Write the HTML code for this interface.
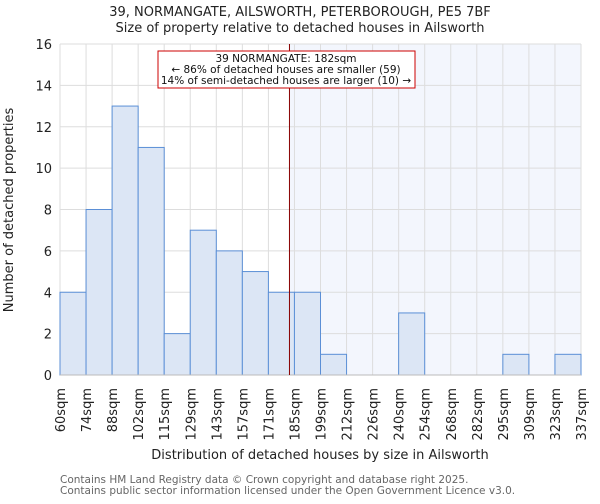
<!DOCTYPE html>
<html><head><meta charset="utf-8"><style>
body{margin:0;background:#fff;font-family:"DejaVu Sans","Liberation Sans",sans-serif}
svg text{font-family:"DejaVu Sans","Liberation Sans",sans-serif}
</style></head><body>
<svg id="chart" width="600" height="500" xmlns="http://www.w3.org/2000/svg">
<text x="300" y="16" text-anchor="middle" font-size="13" fill="#222">39, NORMANGATE, AILSWORTH, PETERBOROUGH, PE5 7BF</text>
<text x="300" y="32" text-anchor="middle" font-size="13" fill="#222">Size of property relative to detached houses in Ailsworth</text>
<g id="grid"></g><g id="bars"></g><g id="axes"></g>
<text transform="translate(13,210) rotate(-90)" text-anchor="middle" font-size="13" fill="#222">Number of detached properties</text>
<text x="320" y="459" text-anchor="middle" font-size="13" fill="#222">Distribution of detached houses by size in Ailsworth</text>
<text x="60" y="483" font-size="10.5" fill="#666">Contains HM Land Registry data © Crown copyright and database right 2025.</text>
<text x="60" y="494" font-size="10.5" fill="#666">Contains public sector information licensed under the Open Government Licence v3.0.</text>
</svg>
<script>
const binLabels=["60sqm","74sqm","88sqm","102sqm","115sqm","129sqm","143sqm","157sqm","171sqm","185sqm","199sqm","212sqm","226sqm","240sqm","254sqm","268sqm","282sqm","295sqm","309sqm","323sqm","337sqm"];
const counts=[4,8,13,11,2,7,6,5,4,4,1,0,0,3,0,0,0,1,0,1];
const yTicks=[0,2,4,6,8,10,12,14,16];
const propertySize=182;
const binStart=60, binWidthSqm=13.85;
const annotation=["39 NORMANGATE: 182sqm","← 86% of detached houses are smaller (59)","14% of semi-detached houses are larger (10) →"];
const NS="http://www.w3.org/2000/svg";
const L=60,R=581,T=44,B=375,nb=counts.length;
const x=i=>L+(R-L)*i/nb;
const y=v=>B-(B-T)*v/16;
const xs=s=>L+(R-L)*(s-binStart)/(binWidthSqm*nb);
function mk(tag,attrs,parent){const e=document.createElementNS(NS,tag);for(const k in attrs)e.setAttribute(k,attrs[k]);parent.appendChild(e);return e;}
const svg=document.getElementById('chart'),grid=document.getElementById('grid'),bars=document.getElementById('bars'),axes=document.getElementById('axes');
const px=xs(propertySize);
let sh=mk('rect',{x:px,y:T,width:R-px,height:B-T,fill:'#f3f6fd'},grid);


for(let i=0;i<=nb;i++){let g=mk('line',{x1:x(i),x2:x(i),y1:T,y2:B,stroke:'#ddd','stroke-width':1},grid);

}
yTicks.forEach(v=>{let g=mk('line',{x1:L,x2:R,y1:y(v),y2:y(v),stroke:'#ddd','stroke-width':1},grid);


let t=mk('text',{x:L-8,y:y(v)+5,'text-anchor':'end','font-size':13,fill:'#222'},axes);t.textContent=v;

});
counts.forEach((c,i)=>{if(c<=0)return;let r=mk('rect',{x:x(i),y:y(c),width:x(i+1)-x(i),height:B-y(c),fill:'#dce6f5',stroke:'#5b8fd6','stroke-width':1},bars);

});
binLabels.forEach((s,i)=>{let t=mk('text',{transform:`translate(${x(i)+5},388) rotate(-90)`,'text-anchor':'end','font-size':13,fill:'#222'},axes);t.textContent=s;

});
let ax=mk('line',{x1:L,x2:R,y1:B,y2:B,stroke:'#bbb'},axes);


let ml=mk('line',{x1:px,x2:px,y1:T,y2:B,stroke:'#800','stroke-width':1},axes);


let box=mk('rect',{x:158,y:51,width:257,height:37,fill:'#fff',stroke:'#c00','stroke-width':1},axes);


annotation.forEach((s,i)=>{let t=mk('text',{x:286,y:62+i*11,'text-anchor':'middle','font-size':10.5,fill:'#111'},axes);t.textContent=s;

});
</script>
</body></html>
